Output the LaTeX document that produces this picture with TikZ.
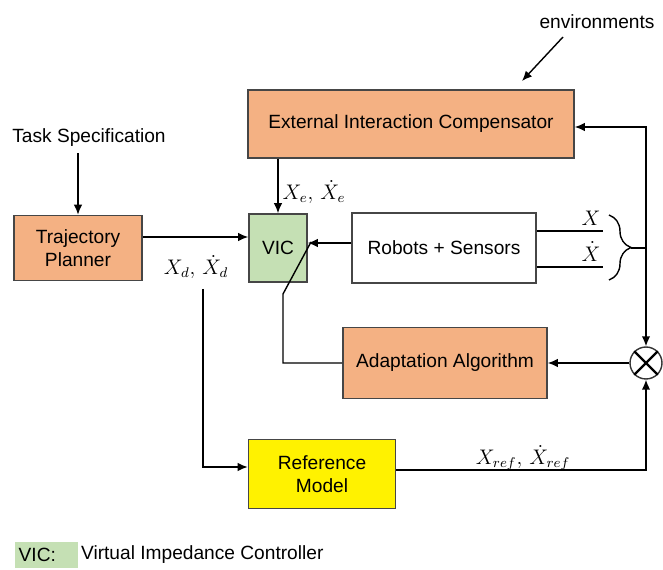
\documentclass[tikz,border=0pt]{standalone}
\usepackage{fontspec}
\setmainfont{Liberation Sans}
\usepackage{amsmath}
\usetikzlibrary{arrows.meta,decorations.pathreplacing}

\definecolor{boxorange}{RGB}{244,177,131}
\definecolor{vicgreen}{RGB}{197,224,180}
\definecolor{boxedge}{RGB}{70,70,70}

\tikzset{
  block/.style={draw=boxedge, line width=0.9pt, align=center, inner sep=0pt},
  orangebox/.style={block, fill=boxorange},
  mathlabel/.style={font=\fontsize{12}{14}\selectfont, inner sep=1pt}
}

\begin{document}
\begin{tikzpicture}[x=0.02cm, y=-0.02cm, >={Latex[length=2mm,width=1.7mm]}, line width=0.8pt,
    font=\fontsize{10.9}{13}\selectfont]
    \useasboundingbox (0,0) rectangle (663,570);

    % Blocks
    \node[orangebox, minimum width=6.52cm, minimum height=1.36cm] (eic) at (411,124) {External Interaction Compensator};
    \node[orangebox, minimum width=2.56cm, minimum height=1.3cm] (planner) at (78,248) {Trajectory\\Planner};
    \node[block, fill=vicgreen, minimum width=1.16cm, minimum height=1.36cm] (vic) at (278,248) {VIC};
    \node[block, fill=white, minimum width=3.68cm, minimum height=1.4cm] (robot) at (444,248) {Robots + Sensors};
    \node[orangebox, minimum width=4.08cm, minimum height=1.42cm] (adapt) at (445,363) {Adaptation Algorithm};
    \node[block, fill=yellow, minimum width=2.94cm, minimum height=1.38cm] (refmodel) at (322,474) {Reference\\Model};

    % Multiplier
    \node[draw=black!80, circle, minimum size=0.64cm, inner sep=0pt] (mult) at (646,363) {};
    \draw[line width=1.3pt] (mult.north west) -- (mult.south east) (mult.north east) -- (mult.south west);

    % Outside inputs
    \node (task) at (89,138) {Task Specification};
    \node (env) at (597,22) {environments};
    \draw[->] (planner |- task.south) -- (planner.north);
    \coordinate (envtail) at (563,37);
    \coordinate (envtip) at (522,81);
    \draw[->] (envtail) -- (envtip);

    % Desired trajectory
    \draw[->] ([yshift=0.22cm]planner.east) -- ([yshift=0.22cm]vic.west);
    \node[mathlabel] (xd) at (196,267) {$X_d,\,\dot X_d$};
    \coordinate (splitlow) at (203,289);
    \draw[->] (splitlow) |- ([yshift=0.14cm]refmodel.west);

    % Compensator to VIC
    \draw[->] (eic.south -| vic) -- (vic.north);
    \node[mathlabel] (xe) at (314,192) {$X_e,\,\dot X_e$};

    % Robot feedback
    \draw[->] ([yshift=0.1cm]robot.west) -- ([yshift=0.1cm]vic.east);
    \draw ([yshift=0.34cm]robot.east) -- ++(66,0) node[mathlabel, pos=0.82, above=2pt] {$X$};
    \draw ([yshift=-0.38cm]robot.east) -- ++(66,0) node[mathlabel, pos=0.82, above=2pt] {$\dot X$};
    \draw[decorate, decoration={brace, amplitude=0.44cm}] (609,215) -- (609,280);
    \coordinate (bracetip) at (631,248);
    \coordinate (fbjoin) at (mult |- bracetip);
    \draw (bracetip) -- (fbjoin);
    \draw[->] (fbjoin) -- (mult.north);
    \draw[->] (fbjoin) |- ([yshift=-0.06cm]eic.east);

    % Adaptation loop
    \draw[->] (mult.west) -- (adapt.east);
    \coordinate (gaintop) at (283,294);
    \coordinate (gaintip) at (311,242);
    \draw (adapt.west) -| (gaintop) -- (gaintip);

    % Reference model output
    \draw[->] ([yshift=0.08cm]refmodel.east) -| (mult.south);
    \node[mathlabel] (xref) at (523,458) {$X_{ref},\,\dot X_{ref}$};

    % Legend
    \node[fill=vicgreen, anchor=west, inner sep=0pt, inner xsep=0.08cm, minimum height=0.52cm,
      text width=1.1cm, align=left] (legkey) at (14,555) {VIC:};
    \node[anchor=west, inner sep=0pt] (legtext) at ([xshift=0.04cm]legkey.east) {Virtual Impedance Controller};
\end{tikzpicture}
\end{document}
